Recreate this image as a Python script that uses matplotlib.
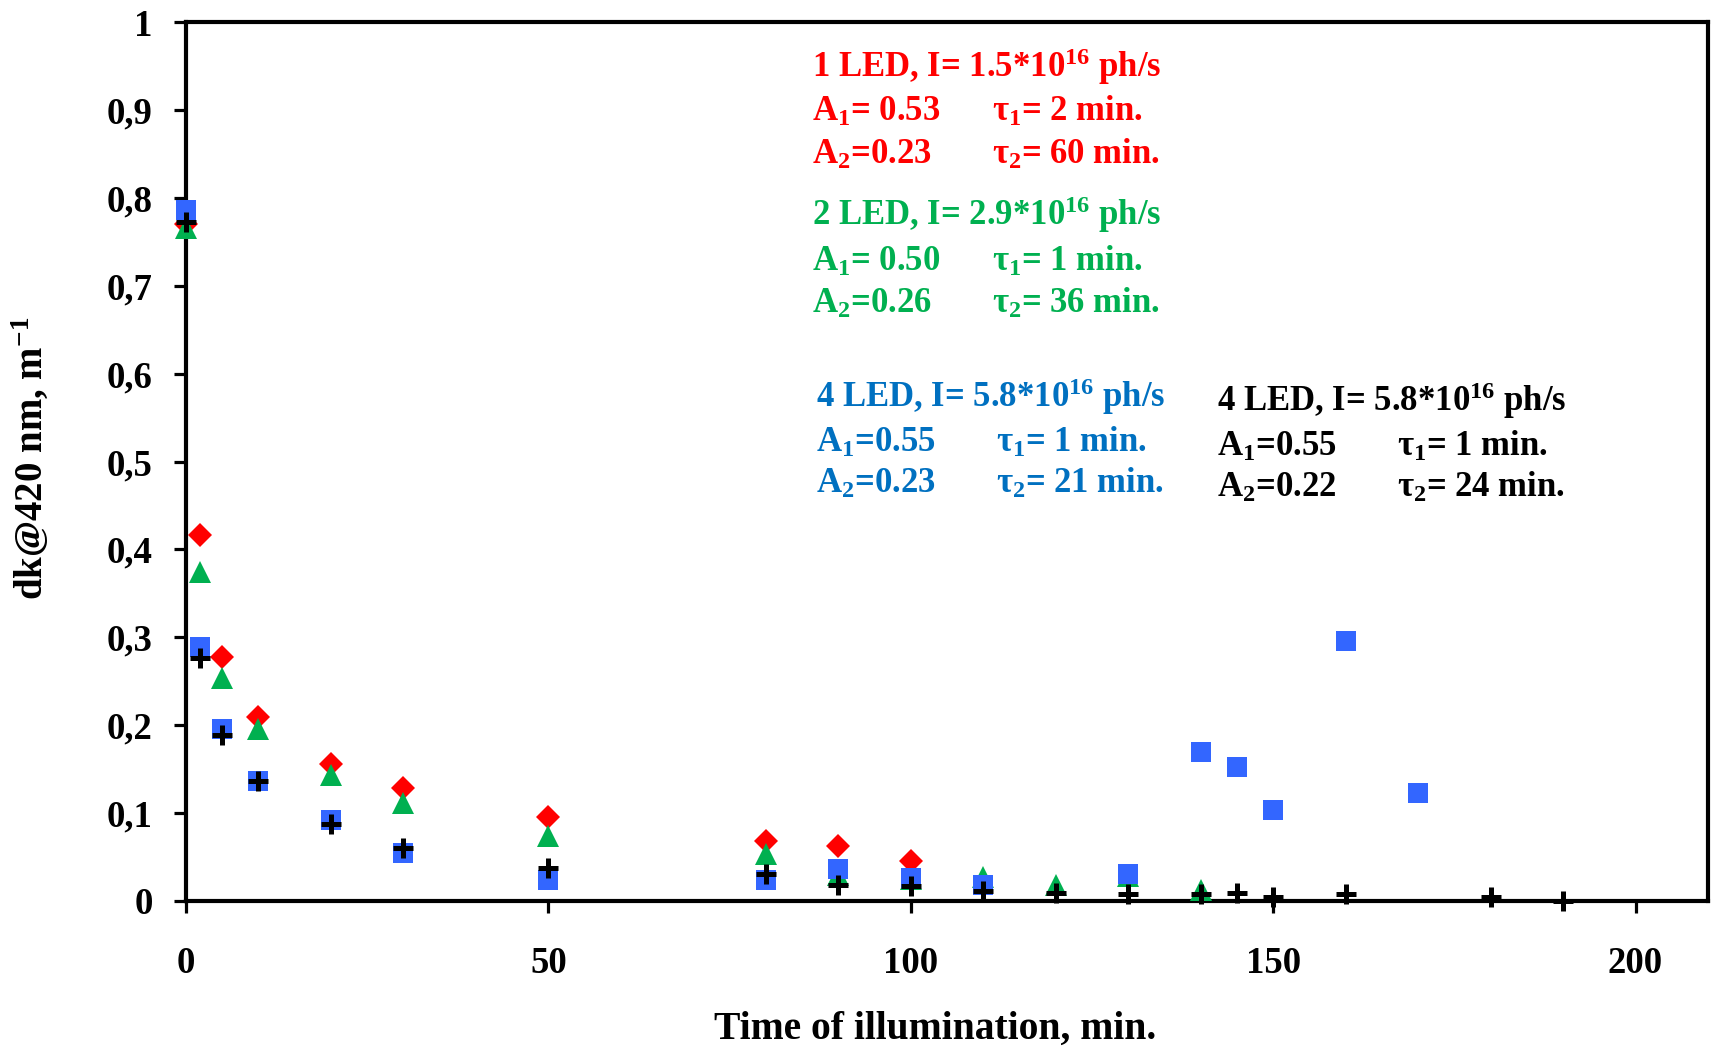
import matplotlib
matplotlib.use("Agg")
import matplotlib.pyplot as plt

plt.rcParams['font.family'] = ['Liberation Serif', 'DejaVu Serif']
plt.rcParams['font.weight'] = 'bold'
plt.rcParams['mathtext.fontset'] = 'custom'
plt.rcParams['mathtext.rm'] = 'Liberation Serif:bold'
plt.rcParams['mathtext.it'] = 'Liberation Serif:bold'
plt.rcParams['mathtext.bf'] = 'Liberation Serif:bold'

# ---------------- data ----------------
x_1led = [0, 2, 5, 10, 20, 30, 50, 80, 90, 100]
y_1led = [0.770, 0.416, 0.278, 0.209, 0.156, 0.128, 0.095, 0.068, 0.063, 0.046]

x_2led = [0, 2, 5, 10, 20, 30, 50, 80, 90, 100, 110, 120, 130, 140]
y_2led = [0.766, 0.374, 0.254, 0.196, 0.143, 0.111, 0.074, 0.053, 0.030, 0.025,
          0.027, 0.018, 0.029, 0.012]

x_4led_a = [0, 2, 5, 10, 20, 30, 50, 80, 90, 100, 110, 130, 140, 145, 150, 160, 170]
y_4led_a = [0.786, 0.289, 0.196, 0.136, 0.092, 0.055, 0.024, 0.024, 0.036, 0.026,
            0.018, 0.031, 0.170, 0.152, 0.103, 0.296, 0.123]

x_4led_b = [0, 2, 5, 10, 20, 30, 50, 80, 90, 100, 110, 120, 130, 140, 145, 150,
            160, 180, 190]
y_4led_b = [0.772, 0.277, 0.189, 0.136, 0.088, 0.060, 0.037, 0.031, 0.018, 0.017,
            0.011, 0.009, 0.008, 0.008, 0.009, 0.0045, 0.008, 0.005, 0.0]

x_ticks = [0, 50, 100, 150, 200]
y_ticks = [0, 0.1, 0.2, 0.3, 0.4, 0.5, 0.6, 0.7, 0.8, 0.9, 1.0]
y_tick_labels = ['0', '0,1', '0,2', '0,3', '0,4', '0,5', '0,6', '0,7', '0,8', '0,9', '1']

x_label = 'Time of illumination, min.'
y_label = r'dk@420 nm, m$^{\mathrm{-1}}$'

# annotation blocks: (header, A1, tau1, A2, tau2, colour)
blocks = [
    (r'1 LED, I= 1.5*10$^{\mathrm{16}}$ ph/s', r'$\mathrm{A_1}$= 0.53', r'$\tau_1$= 2 min.',
     r'$\mathrm{A_2}$=0.23', r'$\tau_2$= 60 min.', '#FF0000'),
    (r'2 LED, I= 2.9*10$^{\mathrm{16}}$ ph/s', r'$\mathrm{A_1}$= 0.50', r'$\tau_1$= 1 min.',
     r'$\mathrm{A_2}$=0.26', r'$\tau_2$= 36 min.', '#00B050'),
    (r'4 LED, I= 5.8*10$^{\mathrm{16}}$ ph/s', r'$\mathrm{A_1}$=0.55', r'$\tau_1$= 1 min.',
     r'$\mathrm{A_2}$=0.23', r'$\tau_2$= 21 min.', '#0070C0'),
    (r'4 LED, I= 5.8*10$^{\mathrm{16}}$ ph/s', r'$\mathrm{A_1}$=0.55', r'$\tau_1$= 1 min.',
     r'$\mathrm{A_2}$=0.22', r'$\tau_2$= 24 min.', '#000000'),
]

# ---------------- figure ----------------
W, H = 1715, 1050
fig = plt.figure(figsize=(W / 100, H / 100), dpi=100)
ax = fig.add_axes([186 / W, 1 - 901 / H, (1708 - 186) / W, (901 - 22) / H])

ax.plot(x_1led, y_1led, linestyle='none', marker='D', ms=12, mew=0,
        color='#FF0000', clip_on=False, zorder=3)
ax.plot(x_2led, y_2led, linestyle='none', marker='^', ms=15.5, mew=0,
        color='#00B050', clip_on=False, zorder=4)
ax.plot(x_4led_a, y_4led_a, linestyle='none', marker='s', ms=15, mew=0,
        color='#3366FF', clip_on=False, zorder=5)
ax.plot(x_4led_b, y_4led_b, linestyle='none', marker='+', ms=15, mew=3.6,
        color='#000000', clip_on=False, zorder=6)

ax.set_xlim(0, 210)
ax.set_ylim(0, 1)
ax.set_xticks(x_ticks)
ax.set_xticklabels([str(v) for v in x_ticks])
ax.set_yticks(y_ticks)
ax.set_yticklabels(y_tick_labels)

for sp in ax.spines.values():
    sp.set_linewidth(3)
ax.tick_params(axis='both', direction='out', length=8.6, width=2.3, labelsize=26.5)
ax.tick_params(axis='y', pad=15.5)
ax.tick_params(axis='x', pad=24)
for lbl in ax.get_xticklabels() + ax.get_yticklabels():
    lbl.set_fontweight('bold')

fig.text(935 / W, 1 - 1039 / H, x_label, ha='center', va='baseline',
         fontsize=28.5, fontweight='bold')
fig.text(30 / W, 1 - 458 / H, y_label, ha='center', va='center', rotation=90,
         fontsize=28, fontweight='bold')

# annotation positions (pixels): x_left, x_tau, baselines
layout = [
    (812, 992, (77, 121, 164)),
    (812, 992, (225, 271, 313)),
    (816, 996, (407, 452, 493)),
    (1217, 1397, (411, 456, 497)),
]
fs = 25
for (hdr, a1, t1, a2, t2, col), (xl, xt, ys) in zip(blocks, layout):
    fig.text(xl / W, 1 - ys[0] / H, hdr, color=col, fontsize=fs, fontweight='bold', va='baseline')
    fig.text(xl / W, 1 - ys[1] / H, a1, color=col, fontsize=fs, fontweight='bold', va='baseline')
    fig.text(xt / W, 1 - ys[1] / H, t1, color=col, fontsize=fs, fontweight='bold', va='baseline')
    fig.text(xl / W, 1 - ys[2] / H, a2, color=col, fontsize=fs, fontweight='bold', va='baseline')
    fig.text(xt / W, 1 - ys[2] / H, t2, color=col, fontsize=fs, fontweight='bold', va='baseline')

fig.savefig('out.png', dpi=100)
